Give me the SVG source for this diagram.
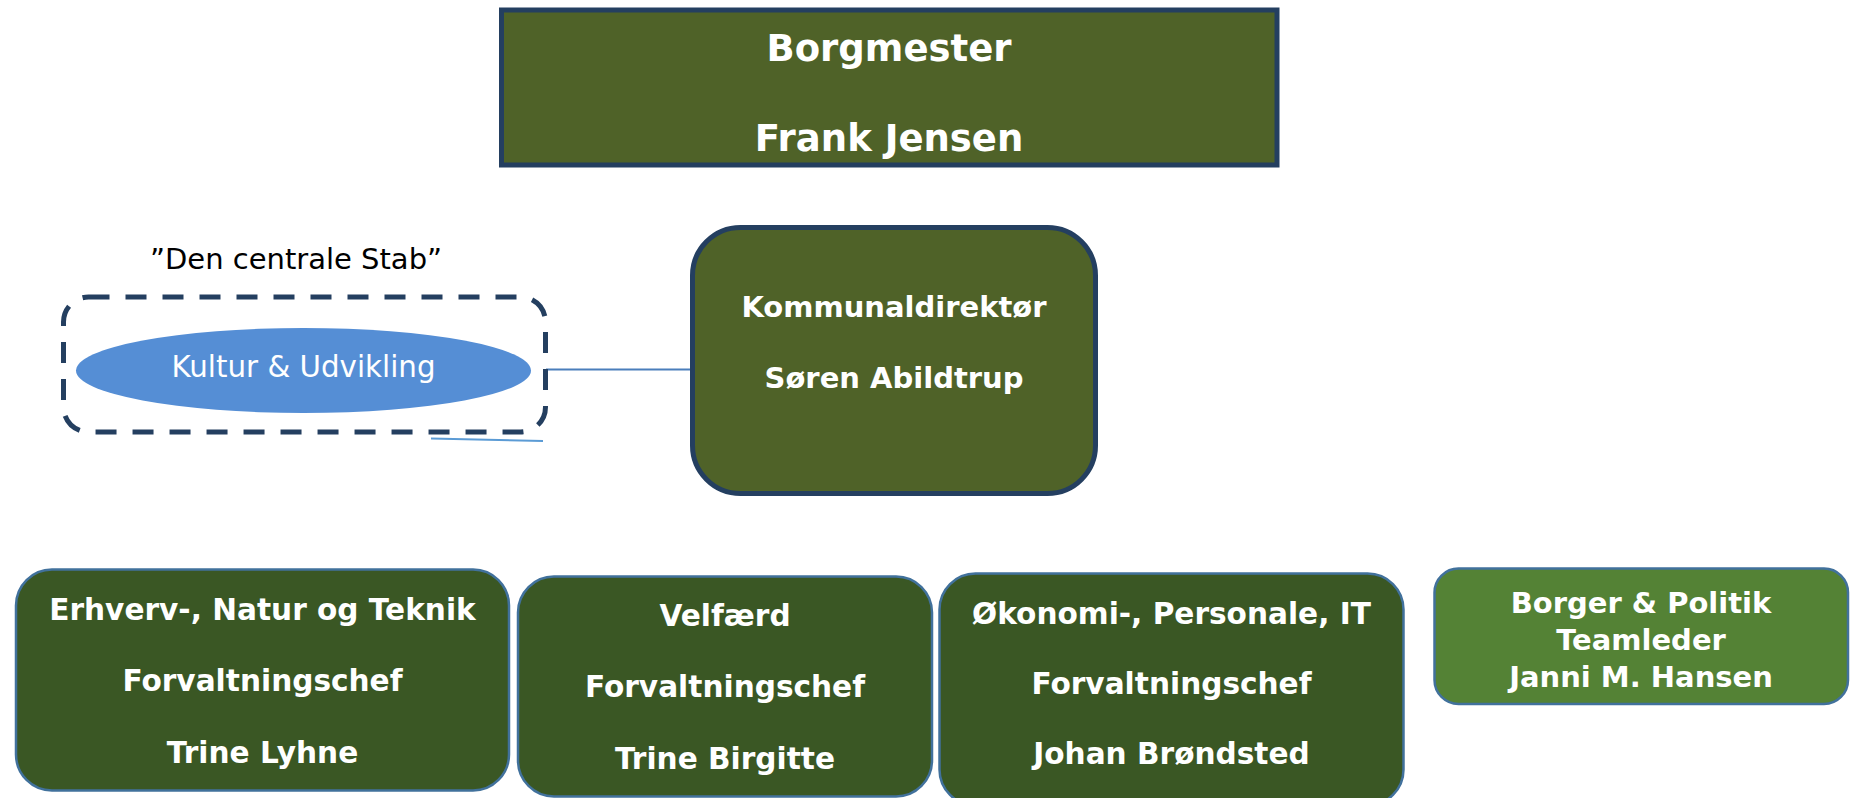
<svg xmlns="http://www.w3.org/2000/svg" width="1852" height="798" viewBox="0 0 1852 798">
<style>
.t{font-family:"DejaVu Sans","Verdana",sans-serif;text-anchor:middle;fill:#fff}
.b{font-weight:bold}
.top{fill:#4F6228;stroke:#243F60;stroke-width:5}
.dept{fill:#3A5724;stroke:#41719C;stroke-width:2.5}
.lite{fill:#548235;stroke:#41719C;stroke-width:2.5}
.con{stroke:#4A7EBB;stroke-width:2;fill:none}
</style>
<rect width="1852" height="798" fill="#fff"/>
<g id="connectors">
<line class="con" x1="546" y1="369.5" x2="692" y2="369.5"/>
<line x1="431" y1="438.5" x2="543" y2="441" stroke="#5B9BD5" stroke-width="2"/>
</g>
<g id="borgmester">
<rect class="top" x="501.5" y="10" width="775.5" height="155"/>
<text class="t b" x="889" y="61" font-size="37">Borgmester</text>
<text class="t b" x="889" y="151" font-size="37">Frank Jensen</text>
</g>
<g id="stab">
<text x="296" y="269" font-family="DejaVu Sans, Verdana, sans-serif" font-size="29" text-anchor="middle" fill="#000">”Den centrale Stab”</text>
<rect x="63.5" y="297" width="482" height="135" rx="25" fill="none" stroke="#243F60" stroke-width="5" stroke-dasharray="21 16"/>
</g>
<g id="kultur">
<ellipse cx="303.5" cy="370.5" rx="227.5" ry="42.5" fill="#558ED5"/>
<text class="t" x="303.5" y="377" font-size="29.3">Kultur &amp; Udvikling</text>
</g>
<g id="kommunaldirektor">
<rect class="top" x="692.5" y="227.5" width="403" height="266" rx="48"/>
<text class="t b" x="894" y="317" font-size="29">Kommunaldirektør</text>
<text class="t b" x="894" y="388" font-size="29">Søren Abildtrup</text>
</g>
<g id="erhverv">
<rect class="dept" x="16" y="569.5" width="493" height="221" rx="36"/>
<text class="t b" x="262.5" y="620" font-size="29.6">Erhverv-, Natur og Teknik</text>
<text class="t b" x="262.5" y="691" font-size="29.6">Forvaltningschef</text>
<text class="t b" x="262.5" y="763" font-size="29.6">Trine Lyhne</text>
</g>
<g id="velfaerd">
<rect class="dept" x="518" y="576.5" width="414" height="220" rx="36"/>
<text class="t b" x="725" y="626" font-size="29.6">Velfærd</text>
<text class="t b" x="725" y="697" font-size="29.6">Forvaltningschef</text>
<text class="t b" x="725" y="769" font-size="29.6">Trine Birgitte</text>
</g>
<g id="okonomi">
<rect class="dept" x="939.5" y="573.5" width="464" height="232" rx="36"/>
<text class="t b" x="1171.5" y="624" font-size="29.6">Økonomi-, Personale, IT</text>
<text class="t b" x="1171.5" y="694" font-size="29.6">Forvaltningschef</text>
<text class="t b" x="1171.5" y="764" font-size="29.6">Johan Brøndsted</text>
</g>
<g id="borger">
<rect class="lite" x="1434.5" y="568.5" width="413.5" height="135.5" rx="24"/>
<text class="t b" x="1641" y="613" font-size="29">Borger &amp; Politik</text>
<text class="t b" x="1641" y="650" font-size="29">Teamleder</text>
<text class="t b" x="1641" y="687" font-size="29">Janni M. Hansen</text>
</g>
</svg>
